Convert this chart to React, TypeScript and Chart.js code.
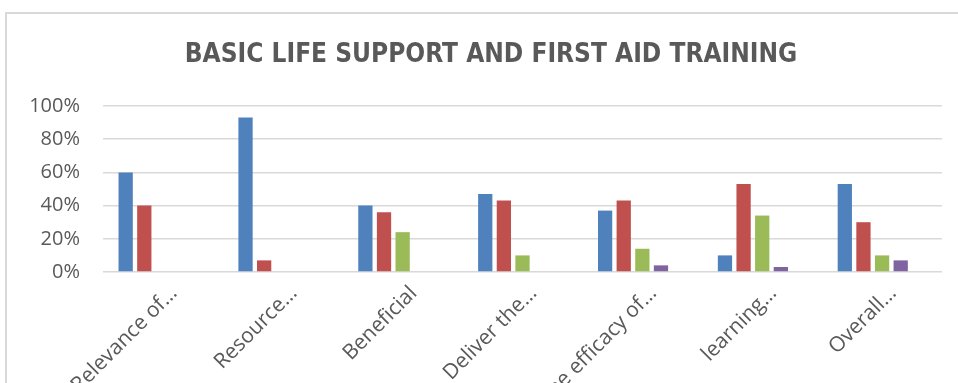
import React, { useEffect, useRef } from "react";
import { Chart, registerables } from "chart.js";

Chart.register(...registerables);

const title = "BASIC LIFE SUPPORT AND FIRST AID TRAINING";
const categories = [
  "Relevance of…",
  "Resource…",
  "Beneficial",
  "Deliver the…",
  "The efficacy of…",
  "learning…",
  "Overall…",
];
const series1 = [60, 93, 40, 47, 37, 10, 53];
const series2 = [40, 7, 36, 43, 43, 53, 30];
const series3 = [0, 0, 24, 10, 14, 34, 10];
const series4 = [0, 0, 0, 0, 4, 3, 7];
const series5 = [0, 0, 0, 0, 0, 0, 0];
const seriesNames = ["Series1", "Series2", "Series3", "Series4", "Series5"];
const seriesColors = ["#4F81BD", "#C0504D", "#9BBB59", "#8064A2", "#4BACC6"];
const yTicks = [0, 20, 40, 60, 80, 100];

const titlePlugin = {
  id: "fixedTitle",
  afterDraw(chart: any) {
    const ctx = chart.ctx;
    ctx.save();
    ctx.fillStyle = "#595959";
    ctx.font = "bold 26px 'Liberation Sans Narrow', 'DejaVu Sans Condensed', 'Open Sans', sans-serif";
    ctx.textAlign = "center";
    ctx.textBaseline = "middle";
    ctx.fillText(title, 491, 55);
    ctx.restore();
  },
};

export default function App() {
  const ref = useRef<HTMLCanvasElement | null>(null);

  useEffect(() => {
    document.body.style.margin = "0";
    const canvas = ref.current;
    if (!canvas) return;
    const allSeries = [series1, series2, series3, series4, series5];
    const chart = new Chart(canvas, {
      type: "bar",
      data: {
        labels: categories,
        datasets: allSeries.map((s, i) => ({
          label: seriesNames[i],
          data: s,
          backgroundColor: seriesColors[i],
          borderWidth: 0,
          categoryPercentage: 0.777,
          barPercentage: 0.766,
        })),
      },
      options: {
        responsive: false,
        animation: false,
        layout: { padding: { left: 0, right: 16, top: 106, bottom: 0 } },
        plugins: {
          legend: { display: false },
          tooltip: { enabled: false },
          title: { display: false },
        },
        scales: {
          x: {
            grid: { display: false, drawTicks: false },
            border: { display: false },
            ticks: {
              color: "#595959",
              font: { family: "'Open Sans', sans-serif", size: 21 },
              minRotation: 45,
              maxRotation: 45,
              autoSkip: false,
              padding: 9,
              labelOffset: 11,
            },
            afterFit: (axis: any) => {
              axis.height = 111;
            },
          },
          y: {
            min: 0,
            max: 100,
            afterBuildTicks: (axis: any) => {
              axis.ticks = yTicks.map((v) => ({ value: v }));
            },
            grid: { color: "#d9d9d9", lineWidth: 1.5, drawTicks: false },
            border: { display: false },
            ticks: {
              color: "#595959",
              font: { family: "'Open Sans', sans-serif", size: 20 },
              padding: 23,
              callback: (v: any) => v + "%",
            },
            afterFit: (axis: any) => {
              axis.width = 103;
            },
          },
        },
      },
      plugins: [titlePlugin],
    });
    return () => chart.destroy();
  }, []);

  return (
    <div style={{ position: "relative", width: 958, height: 383, overflow: "hidden", background: "#fff" }}>
      <div
        style={{
          position: "absolute",
          left: 5,
          top: 12,
          width: 1200,
          height: 1200,
          border: "2px solid #d9d9d9",
          boxSizing: "border-box",
        }}
      />
      <canvas ref={ref} width={958} height={383} style={{ position: "absolute", left: 0, top: 0 }} />
    </div>
  );
}
